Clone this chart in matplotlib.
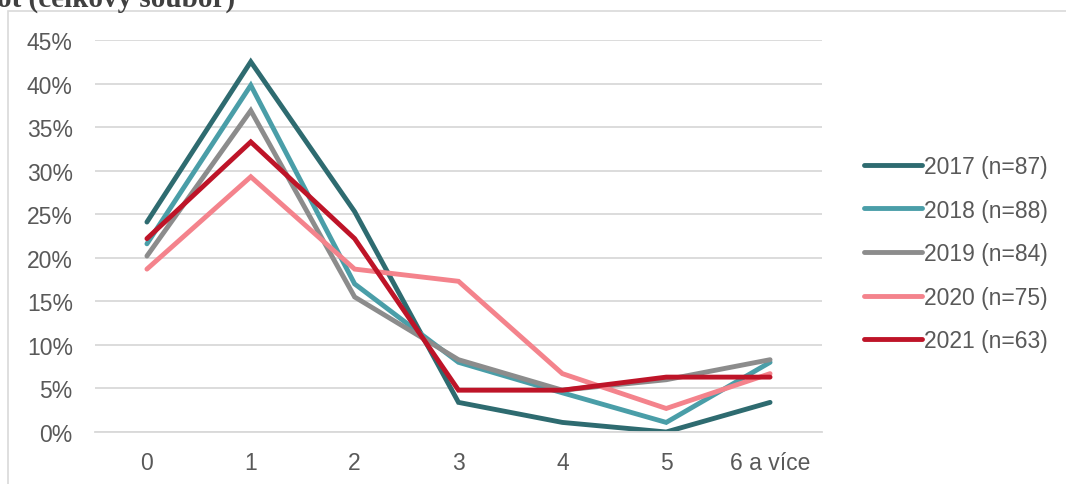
import matplotlib
matplotlib.use("Agg")
import matplotlib.pyplot as plt
from matplotlib.patches import Rectangle
from matplotlib.ticker import FuncFormatter

categories = ["0", "1", "2", "3", "4", "5", "6 a více"]
labels = ["2017 (n=87)", "2018 (n=88)", "2019 (n=84)", "2020 (n=75)", "2021 (n=63)"]
v2017 = [24.1, 42.5, 25.3, 3.4, 1.1, 0.0, 3.4]
v2018 = [21.6, 39.8, 17.0, 8.0, 4.5, 1.1, 8.0]
v2019 = [20.2, 36.9, 15.5, 8.3, 4.8, 6.0, 8.3]
v2020 = [18.7, 29.3, 18.7, 17.3, 6.7, 2.7, 6.7]
v2021 = [22.2, 33.3, 22.2, 4.8, 4.8, 6.3, 6.3]
colors = ["#2E6B70", "#4A9EA8", "#8C8C8C", "#F4838C", "#BE1428"]

series = [v2017, v2018, v2019, v2020, v2021]
text_col = "#595959"
plt.rcParams['font.family'] = ['Liberation Sans', 'DejaVu Sans']

fig = plt.figure(figsize=(10.66, 4.85), dpi=100)

# outer chart border (partly cut off in the original)
fig.patches.append(Rectangle((8 / 1066, -0.1), 1.2, 1.1 - 12 / 485,
                             transform=fig.transFigure, fill=False,
                             edgecolor="#D9D9D9", linewidth=1.2))
# title, cut off at the top edge as in the original
fig.text(-0.003, 1 - 7 / 485, "ot (celkový soubor)", fontsize=21, fontweight="bold",
         family="Liberation Serif", color="#404040", ha="left", va="baseline")

ax = fig.add_axes([95 / 1066, 1 - 433 / 485, 727 / 1066, 392 / 485])
x = list(range(len(categories)))
for vals, lab, c in zip(series, labels, colors):
    ax.plot(x, vals, color=c, linewidth=3.5, label=lab, solid_capstyle="round",
            solid_joinstyle="miter")

ax.set_xlim(-0.5, 6.5)
ax.set_ylim(0, 45)
ax.set_yticks(range(0, 46, 5))
ax.yaxis.set_major_formatter(FuncFormatter(lambda v, p: f"{int(v)}%"))
ax.set_xticks(x)
ax.set_xticklabels(categories)
ax.grid(axis="y", color="#D9D9D9", linewidth=1.3)
ax.set_axisbelow(True)
for s in ["top", "right", "left"]:
    ax.spines[s].set_visible(False)
ax.spines["bottom"].set_color("#D9D9D9")
ax.spines["bottom"].set_linewidth(1.3)
ax.tick_params(axis="both", length=0, labelsize=16.5, labelcolor=text_col)
ax.tick_params(axis="y", pad=16)
ax.tick_params(axis="x", pad=14)

leg = ax.legend(loc="center left", bbox_to_anchor=(1.03, 0.455), frameon=False,
                fontsize=16.5, handlelength=2.5, handletextpad=0.1,
                labelspacing=0.9, labelcolor=text_col)

fig.savefig("out.png", dpi=100)
